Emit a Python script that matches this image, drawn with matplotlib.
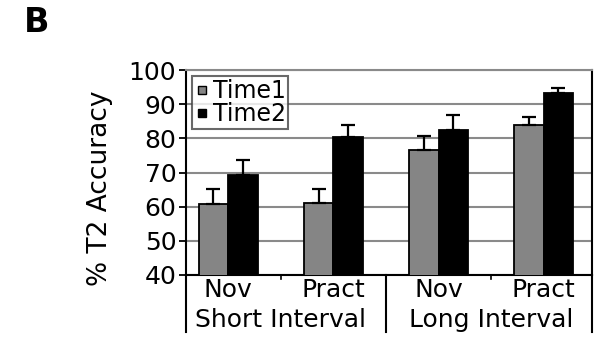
import numpy as np
import matplotlib.pyplot as plt
from matplotlib.lines import Line2D

conditions = ["Nov", "Pract", "Nov", "Pract"]
intervals = ["Short Interval", "Long Interval"]
time1 = [60.8, 61.0, 76.5, 84.0]
time1_err = [4.5, 4.1, 4.3, 2.4]
time2 = [69.4, 80.4, 82.5, 93.3]
time2_err = [4.4, 3.6, 4.4, 1.5]
yticks = [40, 50, 60, 70, 80, 90, 100]

plt.rcParams['font.family'] = ['DejaVu Sans']

fig = plt.figure(figsize=(5.99, 3.37), dpi=100)
ax = fig.add_axes([0.3105, 0.184, 0.678, 0.608])

x = np.arange(len(conditions))
w = 0.28
ekw = dict(ecolor="black", elinewidth=1.6, capsize=5, capthick=1.6)
ax.bar(x - w / 2, time1, w, color="#858585", edgecolor="black", linewidth=1.3,
       yerr=[np.zeros(len(x)), time1_err], error_kw=ekw, zorder=3)
ax.bar(x + w / 2, time2, w, color="black", edgecolor="black", linewidth=1.3,
       yerr=[np.zeros(len(x)), time2_err], error_kw=ekw, zorder=3)

ax.set_xlim(-0.4, 3.46)
ax.set_ylim(40, 100)
ax.set_yticks(yticks)
ax.tick_params(axis="y", labelsize=18, length=5, width=1.3, pad=2)
ax.set_xticks([])
ax.yaxis.grid(True, color="#8a8a8a", linewidth=1.5, zorder=0)
ax.set_axisbelow(True)

ax.spines["top"].set_color("#8a8a8a")
ax.spines["top"].set_linewidth(1.5)
for s in ["left", "bottom", "right"]:
    ax.spines[s].set_color("black")
    ax.spines[s].set_linewidth(1.5)

# category labels below the axis
trans = ax.get_xaxis_transform()
for xi, lab in zip(x, conditions):
    ax.text(xi, -0.075, lab, transform=trans, ha="center", va="center", fontsize=18)
for k, lab in enumerate(intervals):
    ax.text(2 * k + 0.5, -0.22, lab, transform=trans, ha="center", va="center", fontsize=18)

# separator lines
for xb in [-0.4, 1.5, 3.46]:
    ax.plot([xb, xb], [0, -0.28], transform=trans, color="black", lw=1.5, clip_on=False)
for xb in [0.5, 2.5]:
    ax.plot([xb, xb], [0, -0.02], transform=trans, color="black", lw=1.2, clip_on=False)

handles = [Line2D([], [], marker="s", ls="none", markersize=6, markerfacecolor="#858585",
                  markeredgecolor="black", markeredgewidth=1.0),
           Line2D([], [], marker="s", ls="none", markersize=6, markerfacecolor="black",
                  markeredgecolor="black")]
leg = ax.legend(handles, ["Time1", "Time2"], loc="upper left", bbox_to_anchor=(0.015, 0.97),
                fontsize=17, frameon=True, fancybox=False, handlelength=0.6,
                handletextpad=0.15, labelspacing=-0.05, borderpad=0.12, borderaxespad=0)
leg.get_frame().set_edgecolor("#444444")
leg.get_frame().set_linewidth(1.5)

fig.text(100 / 599, 1 - 188 / 337, "% T2 Accuracy", rotation=90, ha="center", va="center",
         fontsize=19)
fig.text(24 / 599, 1 - 23 / 337, "B", ha="left", va="center", fontsize=24, fontweight="bold")

fig.savefig("out.png", dpi=100)
